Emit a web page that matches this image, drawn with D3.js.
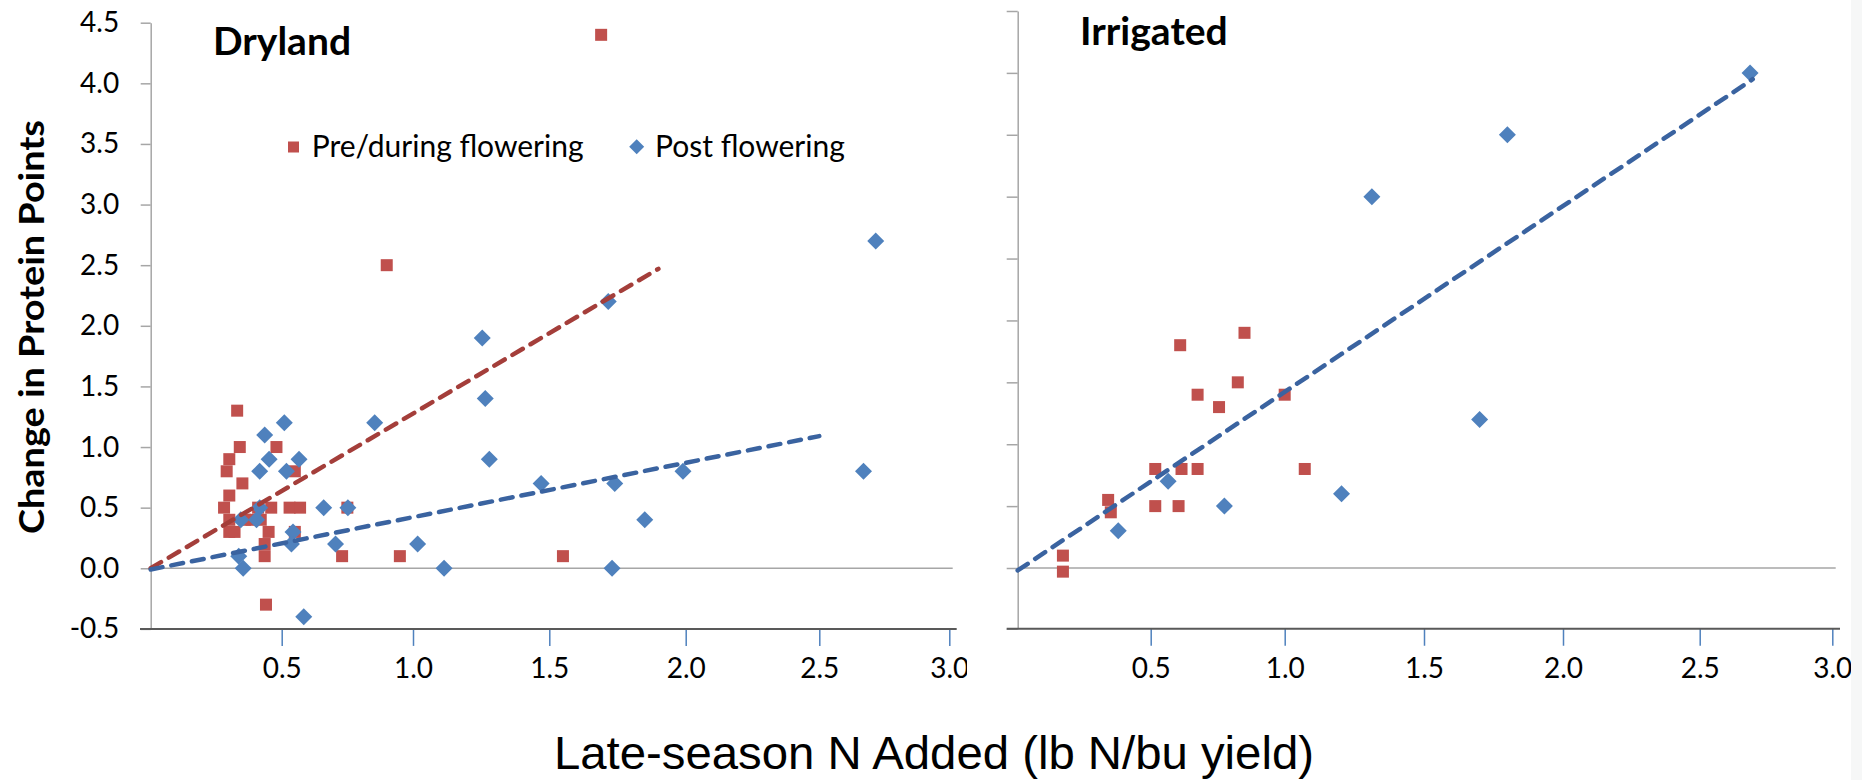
<!DOCTYPE html>
<html><head><meta charset="utf-8">
<script src="https://cdn.jsdelivr.net/npm/d3@7"></script>
<style>body{margin:0;background:#fff;} svg{display:block;}</style>
</head><body><svg id="c" width="1862" height="780"></svg>
<script>
// ---------- data ----------
const panelTitles = ["Dryland", "Irrigated"];
const seriesNames = ["Pre/during flowering", "Post flowering"];
const xTickValues = [0.5, 1.0, 1.5, 2.0, 2.5, 3.0];
const yTickValues = [-0.5, 0, 0.5, 1.0, 1.5, 2.0, 2.5, 3.0, 3.5, 4.0, 4.5];
const xAxisTitle = "Late-season N Added (lb N/bu yield)";
const yAxisTitle = "Change in Protein Points";

const dryPreX = [0.33,0.34,0.30,0.29,0.35,0.30,0.28,0.30,0.36,0.30,0.32,0.48,0.55,0.41,0.46,0.385,0.42,0.45,0.435,0.435,0.53,0.57,0.55,0.75,0.73,0.44,0.90,0.95,1.55,1.69];
const dryPreY = [1.30,1.00,0.90,0.80,0.70,0.60,0.50,0.40,0.40,0.30,0.30,1.00,0.80,0.50,0.50,0.40,0.40,0.30,0.20,0.10,0.50,0.50,0.30,0.50,0.10,-0.30,2.50,0.10,0.10,4.40];
const dryPostX = [0.51,0.435,0.452,0.566,0.416,0.518,0.416,0.344,0.404,0.66,0.752,0.543,0.537,0.705,0.336,0.353,0.584,0.854,1.017,1.114,1.265,1.28,1.254,1.716,2.717,1.47,1.74,1.73,1.85,1.99,2.67];
const dryPostY = [1.20,1.10,0.90,0.90,0.80,0.80,0.50,0.40,0.40,0.50,0.50,0.30,0.20,0.20,0.10,0.00,-0.40,1.20,0.20,0.00,1.40,0.90,1.90,2.20,2.70,0.70,0.70,0.00,0.40,0.80,0.80];
const irrPreX = [0.17,0.17,0.34,0.35,0.517,0.517,0.604,0.615,0.675,0.675,0.755,0.825,1.0,1.072,0.61,0.85];
const irrPreY = [0.10,-0.03,0.55,0.45,0.80,0.50,0.50,0.80,0.80,1.40,1.30,1.50,1.40,0.80,1.80,1.90];
const irrPostX = [0.378,0.565,0.775,1.204,1.313,1.80,2.69,1.70];
const irrPostY = [0.30,0.70,0.50,0.60,3.00,3.50,4.00,1.20];

// trend lines: panel, series, slope, intercept, x end
const trendPanel = [0, 0, 1];
const trendSeries = [0, 1, 1];
const trendSlope = [1.30, 0.44, 1.47];
const trendIntercept = [0.0, -0.01, -0.02];
const trendXEnd = [1.90, 2.50, 2.70];

// ---------- layout ----------
const svg = d3.select("#c");
const RED = "#C0504D", BLUE = "#4F81BD", RED_T = "#A43E3A", BLUE_T = "#3A63A0";
const FONT = "Lato, 'Open Sans', sans-serif";

svg.append("rect").attr("x", 1851).attr("y", 0).attr("width", 11).attr("height", 780).attr("fill", "#f6f7f7");

const panels = [
  {
    x: d3.scaleLinear().domain([0,0.5,1,1.5,2,2.5,3]).range([150.7,281.7,413,549.3,685.7,819.3,949.3]),
    y: d3.scaleLinear().domain([-0.5, 4.5]).range([628.9, 22.7]),
    labels: true, tickLen: 10, zeroEnd: 952.7, axisStart: 140, axisEnd: 956.7, clipEnd: 967,
    title: {x: 213, y: 55},
    pre: [dryPreX, dryPreY], post: [dryPostX, dryPostY]
  },
  {
    x: d3.scaleLinear().domain([0,0.5,1,1.5,2,2.5,3]).range([1017.7,1150.7,1284.7,1424,1563,1699.7,1832.3]),
    y: d3.scaleLinear().domain([-0.5, 0, 4.5]).range([628.7, 568, 11]),
    labels: false, tickLen: 11, zeroEnd: 1835.7, axisStart: 1006.7, axisEnd: 1840, clipEnd: 1851,
    title: {x: 1080, y: 45},
    pre: [irrPreX, irrPreY], post: [irrPostX, irrPostY]
  }
];

const defs = svg.append("defs");
const diamond = s => `M0,${-s}L${s},0L0,${s}L${-s},0Z`;

panels.forEach((p, i) => {
  const g = svg.append("g");
  defs.append("clipPath").attr("id", "clip" + i)
    .append("rect").attr("x", p.axisStart - 200).attr("y", 0).attr("width", p.clipEnd - p.axisStart + 200).attr("height", 780);

  // zero line
  g.append("line").attr("x1", p.x(0)).attr("x2", p.zeroEnd).attr("y1", p.y(0)).attr("y2", p.y(0))
    .attr("stroke", "#a6a6a6").attr("stroke-width", 1.5);

  // y axis
  const ya = g.append("g").attr("transform", `translate(${p.x(0)},0)`)
    .call(d3.axisLeft(p.y).tickValues(yTickValues).tickSize(p.tickLen).tickSizeOuter(0).tickPadding(p.labels ? 21.5 : 0)
      .tickFormat(d => p.labels ? d.toFixed(1) : ""));
  ya.select(".domain").attr("stroke", "#a6a6a6").attr("stroke-width", 1.5);
  ya.selectAll(".tick line").attr("stroke", "#a6a6a6").attr("stroke-width", 1.5);
  ya.selectAll(".tick text").attr("font-family", FONT).attr("font-size", 28).attr("fill", "#000");

  // x axis
  const xa = g.append("g").attr("transform", `translate(0,${p.y(-0.5)})`).attr("clip-path", `url(#clip${i})`)
    .call(d3.axisBottom(p.x).tickValues(xTickValues).tickSize(17).tickSizeOuter(0).tickPadding(12)
      .tickFormat(d => d.toFixed(1)));
  xa.select(".domain").remove();
  xa.selectAll(".tick line").attr("stroke", BLUE).attr("stroke-width", 1.5);
  xa.selectAll(".tick text").attr("font-family", FONT).attr("font-size", 28).attr("fill", "#000");
  g.append("line").attr("x1", p.axisStart).attr("x2", p.axisEnd).attr("y1", p.y(-0.5)).attr("y2", p.y(-0.5))
    .attr("stroke", "#595959").attr("stroke-width", 2);

  // title
  g.append("text").attr("x", p.title.x).attr("y", p.title.y).text(panelTitles[i])
    .attr("font-family", FONT).attr("font-weight", "bold").attr("font-size", 39).attr("fill", "#000");

  // markers
  const preData = p.pre[0].map((v, k) => [v, p.pre[1][k]]);
  const postData = p.post[0].map((v, k) => [v, p.post[1][k]]);
  g.selectAll(".sq").data(preData).join("rect").attr("class", "sq")
    .attr("x", d => p.x(d[0]) - 6).attr("y", d => p.y(d[1]) - 6).attr("width", 12).attr("height", 12)
    .attr("fill", RED);
  g.selectAll(".dm").data(postData).join("path").attr("class", "dm")
    .attr("d", diamond(8.5)).attr("transform", d => `translate(${p.x(d[0])},${p.y(d[1])})`)
    .attr("fill", BLUE);

  // trend lines
  trendPanel.forEach((tp, t) => {
    if (tp !== i) return;
    const pts = [0, trendXEnd[t]].map(xv => [xv, trendSlope[t] * xv + trendIntercept[t]]);
    g.append("path").attr("d", d3.line().x(d => p.x(d[0])).y(d => p.y(d[1]))(pts))
      .attr("fill", "none").attr("stroke", trendSeries[t] === 0 ? RED_T : BLUE_T)
      .attr("stroke-width", 4.5).attr("stroke-linecap", "round").attr("stroke-dasharray", "12 9");
  });
});

// legend
const lg = svg.append("g");
lg.append("rect").attr("x", 288).attr("y", 141.5).attr("width", 11).attr("height", 11).attr("fill", RED);
lg.append("text").attr("x", 311.7).attr("y", 157).text(seriesNames[0])
  .attr("font-family", FONT).attr("font-size", 30).attr("fill", "#000");
lg.append("path").attr("d", diamond(7.5)).attr("transform", "translate(636.7,146.7)").attr("fill", BLUE);
lg.append("text").attr("x", 655).attr("y", 157).text(seriesNames[1])
  .attr("font-family", FONT).attr("font-size", 30).attr("fill", "#000");

// axis titles
svg.append("text").attr("transform", "translate(44,327) rotate(-90)").attr("text-anchor", "middle")
  .text(yAxisTitle).attr("font-family", FONT).attr("font-weight", "bold").attr("font-size", 34)
  .attr("textLength", 414).attr("lengthAdjust", "spacingAndGlyphs").attr("fill", "#000");
svg.append("text").attr("x", 554).attr("y", 769).text(xAxisTitle)
  .attr("font-family", "'Liberation Sans Narrow', 'Liberation Sans', Arial, sans-serif").attr("font-size", 47)
  .attr("textLength", 760).attr("lengthAdjust", "spacingAndGlyphs").attr("fill", "#000");
</script></body></html>
